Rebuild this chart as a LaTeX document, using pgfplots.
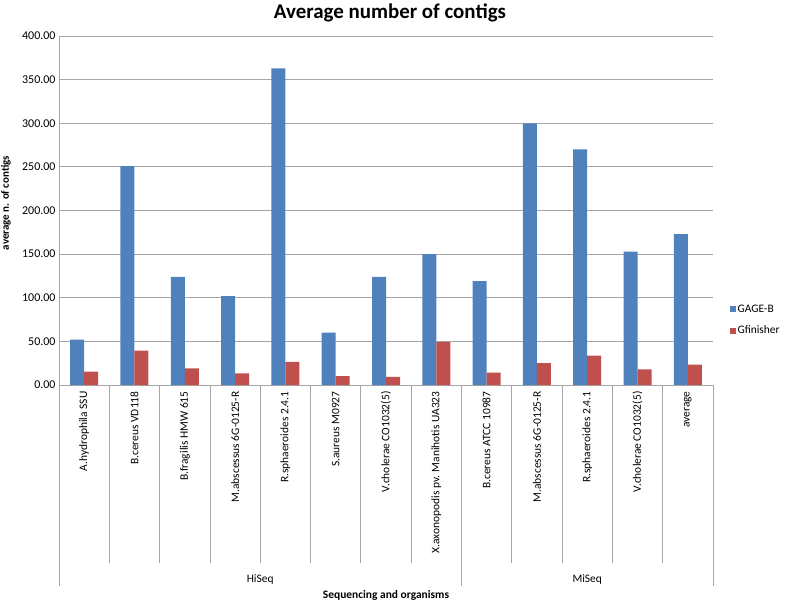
\documentclass[border=0pt]{standalone}
\usepackage{fontspec}
\setmainfont{Carlito}
\usepackage{pgfplots}
\pgfplotsset{compat=1.18}
\definecolor{gblue}{HTML}{4F81BD}
\definecolor{gred}{HTML}{C0504D}
\definecolor{gridc}{HTML}{A6A6A6}
\begin{document}
\begin{tikzpicture}
\path[use as bounding box] (-59bp,-218bp) rectangle (728bp,385bp);
\begin{axis}[
  at={(0,0)}, anchor=south west,
  scale only axis, width=654bp, height=349bp,
  ybar=0pt, bar width=14bp,
  xmin=-0.5, xmax=12.5, ymin=0, ymax=400,
  xtick={0,...,12},
  xticklabels={A.hydrophila SSU, B.cereus VD118, B.fragilis HMW 615, M.abscessus 6G-0125-R, R.sphaeroides 2.4.1, S.aureus M0927, V.cholerae CO1032(5), X.axonopodis pv. Manihotis UA323, B.cereus ATCC 10987, M.abscessus 6G-0125-R, R.sphaeroides 2.4.1, V.cholerae CO1032(5), average},
  minor xtick={-0.5,0.5,...,12.5},
  tick align=outside,
  major tick length=0pt,
  minor tick length=178bp,
  minor tick style={draw=gridc, line width=0.8bp},
  xticklabel style={rotate=90, anchor=east, font=\fontsize{11.5}{13}\selectfont, yshift=0bp, xshift=-3bp},
  ytick={0,50,...,400},
  ytick style={draw=none},
  yticklabel style={font=\fontsize{12}{13}\selectfont, /pgf/number format/.cd, fixed, fixed zerofill, precision=2, assume math mode=true},
  ymajorgrids, grid style={draw=gridc, line width=0.8bp},
  axis x line*=bottom, axis y line*=left,
  axis line style={draw=gridc, line width=0.8bp, -},
  clip=false,
  legend style={at={(1.025,0.186)}, anchor=west, draw=none, fill=none, font=\fontsize{11.5}{13}\selectfont, row sep=8bp, inner sep=0pt},
  legend cell align=left,
  legend image code/.code={\fill[#1] (0bp,-3bp) rectangle (6bp,3bp);},
]
\addplot[fill=gblue, draw=none] coordinates {(0,52) (1,251) (2,124) (3,102) (4,363) (5,60) (6,124) (7,150) (8,119) (9,300) (10,270) (11,153) (12,173)};
\addplot[fill=gred, draw=none] coordinates {(0,15.3) (1,39.5) (2,19.1) (3,13.4) (4,26.4) (5,10.3) (6,9.2) (7,49.3) (8,14.1) (9,25.2) (10,33.6) (11,18) (12,23.3)};
\legend{GAGE-B, Gfinisher}
\draw[gridc, line width=0.8bp] (axis cs:-0.5,0) -- ++(0pt,-201bp);
\draw[gridc, line width=0.8bp] (axis cs:7.5,0) -- ++(0pt,-201bp);
\draw[gridc, line width=0.8bp] (axis cs:12.5,0) -- ++(0pt,-201bp);
\node[font=\fontsize{11.5}{13}\selectfont] at (axis cs:3.5,0) [yshift=-194bp] {HiSeq};
\node[font=\fontsize{11.5}{13}\selectfont] at (axis cs:10,0) [yshift=-194bp] {MiSeq};
\node[font=\fontsize{11.5}{13}\selectfont\bfseries] at (axis cs:6,0) [yshift=-210bp] {Sequencing and organisms};
\end{axis}
\node[font=\fontsize{21}{24}\selectfont\bfseries] at (331bp,372bp) {Average number of contigs};
\node[font=\fontsize{11}{13}\selectfont\bfseries, rotate=90] at (-53bp,182bp) {average n. of contigs};
\end{tikzpicture}
\end{document}
